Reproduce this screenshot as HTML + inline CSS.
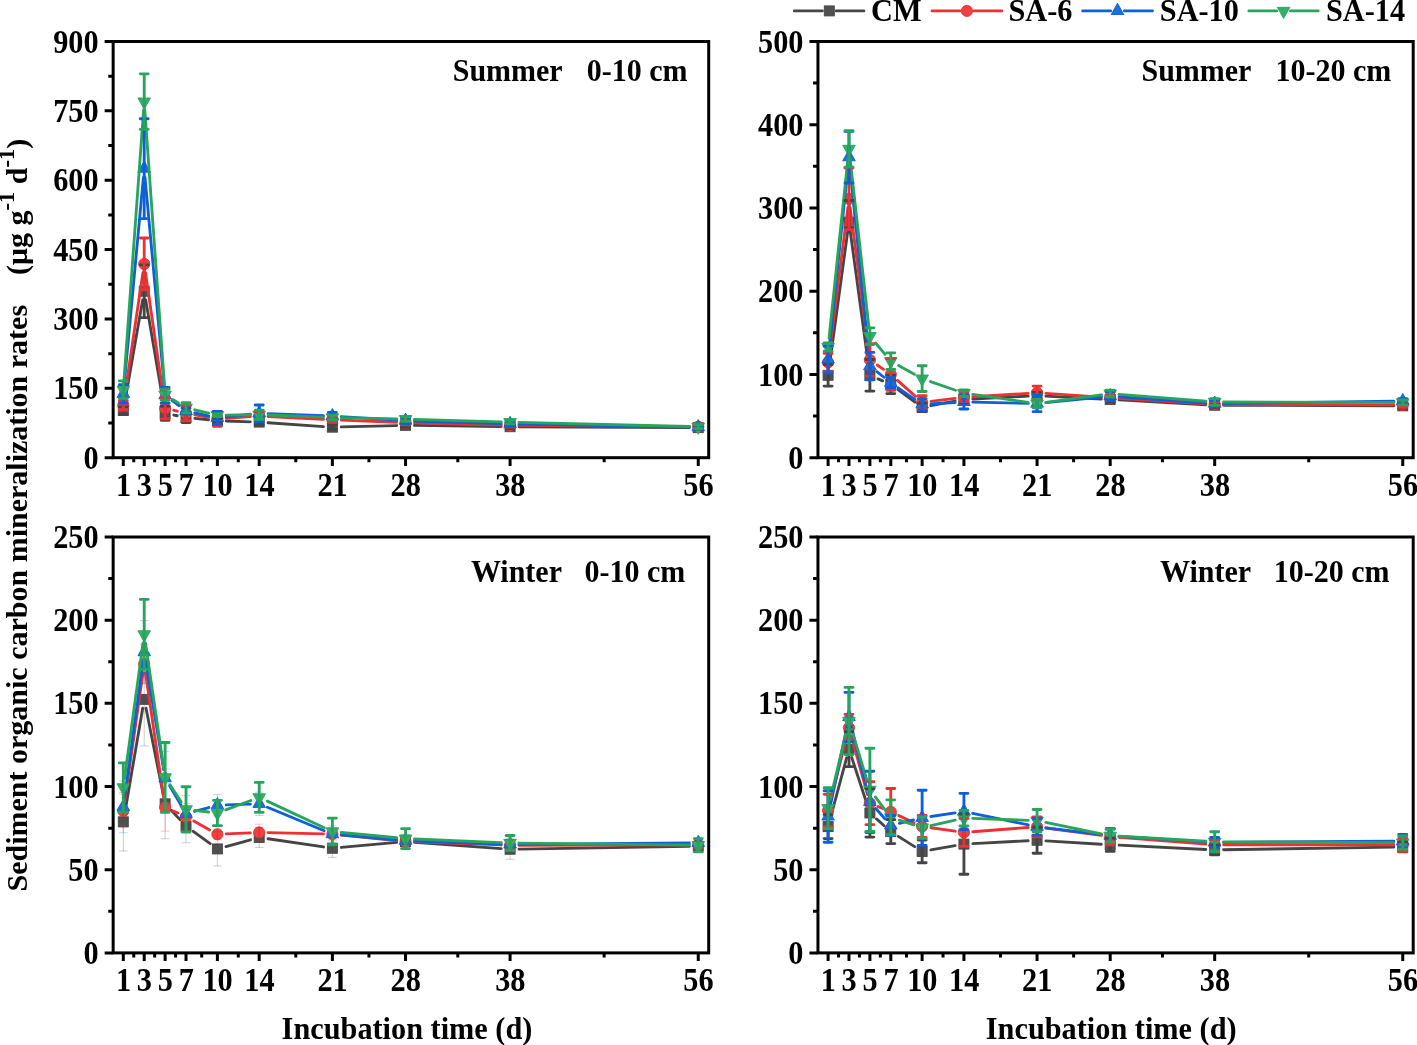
<!DOCTYPE html>
<html lang="en"><head><meta charset="utf-8"><title>Sediment organic carbon mineralization rates</title>
<style>
html,body{margin:0;padding:0;background:#fff}
body{width:1417px;height:1045px;overflow:hidden}
svg{display:block;font-family:"Liberation Serif","Times New Roman",serif;font-weight:bold;font-size:30.3px;fill:#000}
</style></head><body>
<svg width="1417" height="1045" viewBox="0 0 1417 1045">
<rect width="1417" height="1045" fill="#fff"/>
<g><path d="M124.84 401.76L142.67 299.99M145.71 299.99L163.62 404.53M173.85 415.04L177.3 415.73M194.88 418.38L208.53 419.79M226.28 421L250.3 421.8M268.08 422.71L323.5 426.56M341.27 426.95L396.65 425.55M414.45 425.45L501.18 426.6M518.98 426.76L689.35 427.6" fill="none" stroke="#454545" stroke-width="2.85" stroke-linecap="round"/>
<rect x="118.3" y="405.53" width="10" height="10" fill="#505050" stroke="#454545" stroke-width="0.9"/><rect x="139.21" y="286.22" width="10" height="10" fill="#505050" stroke="#454545" stroke-width="0.9"/><rect x="160.12" y="408.31" width="10" height="10" fill="#505050" stroke="#454545" stroke-width="0.9"/><rect x="181.02" y="412.47" width="10" height="10" fill="#505050" stroke="#454545" stroke-width="0.9"/><rect x="212.39" y="415.7" width="10" height="10" fill="#505050" stroke="#454545" stroke-width="0.9"/><rect x="254.2" y="417.09" width="10" height="10" fill="#505050" stroke="#454545" stroke-width="0.9"/><rect x="327.37" y="422.18" width="10" height="10" fill="#505050" stroke="#454545" stroke-width="0.9"/><rect x="400.55" y="420.33" width="10" height="10" fill="#505050" stroke="#454545" stroke-width="0.9"/><rect x="505.08" y="421.72" width="10" height="10" fill="#505050" stroke="#454545" stroke-width="0.9"/><rect x="693.25" y="422.64" width="10" height="10" fill="#505050" stroke="#454545" stroke-width="0.9"/>
<path d="M124.6 396.64L142.91 272.74M145.49 272.74L163.84 399.41M173.77 410.32L177.38 411.2M194.79 414.86L208.62 417.3M226.27 418.27L250.32 416.67M268.09 416.53L323.49 419.33M341.27 420.12L396.65 422.22M414.45 422.79L501.19 425.09M518.98 425.39L689.35 426.65" fill="none" stroke="#ee3034" stroke-width="2.85" stroke-linecap="round"/>
<circle cx="123.3" cy="405.44" r="5.6" fill="#f04040" stroke="#ee3034" stroke-width="0.9"/><circle cx="144.21" cy="263.94" r="5.6" fill="#f04040" stroke="#ee3034" stroke-width="0.9"/><circle cx="165.12" cy="408.22" r="5.6" fill="#f04040" stroke="#ee3034" stroke-width="0.9"/><circle cx="186.02" cy="413.31" r="5.6" fill="#f04040" stroke="#ee3034" stroke-width="0.9"/><circle cx="217.39" cy="418.85" r="5.6" fill="#f04040" stroke="#ee3034" stroke-width="0.9"/><circle cx="259.2" cy="416.08" r="5.6" fill="#f04040" stroke="#ee3034" stroke-width="0.9"/><circle cx="332.37" cy="419.78" r="5.6" fill="#f04040" stroke="#ee3034" stroke-width="0.9"/><circle cx="405.55" cy="422.55" r="5.6" fill="#f04040" stroke="#ee3034" stroke-width="0.9"/><circle cx="510.08" cy="425.33" r="5.6" fill="#f04040" stroke="#ee3034" stroke-width="0.9"/><circle cx="698.25" cy="426.72" r="5.6" fill="#f04040" stroke="#ee3034" stroke-width="0.9"/>
<path d="M124.13 385.02L143.39 177.53M145.03 177.53L164.3 386.41M172.23 400.62L178.91 405.64M194.71 412.92L208.7 416.01M226.23 416.95L250.35 414.28M268.09 413.64L323.48 415.74M341.26 416.64L396.67 420.14M414.44 420.98L501.19 423.67M518.98 424.09L689.35 427.03" fill="none" stroke="#0d60d9" stroke-width="2.85" stroke-linecap="round"/>
<polygon points="123.3,386.28 117,397.48 129.6,397.48" fill="#1b6fde" stroke="#0d60d9" stroke-width="0.9" stroke-linejoin="round"/><polygon points="144.21,161.07 137.91,172.27 150.51,172.27" fill="#1b6fde" stroke="#0d60d9" stroke-width="0.9" stroke-linejoin="round"/><polygon points="165.12,387.67 158.82,398.87 171.42,398.87" fill="#1b6fde" stroke="#0d60d9" stroke-width="0.9" stroke-linejoin="round"/><polygon points="186.02,403.39 179.72,414.59 192.32,414.59" fill="#1b6fde" stroke="#0d60d9" stroke-width="0.9" stroke-linejoin="round"/><polygon points="217.39,410.33 211.09,421.53 223.69,421.53" fill="#1b6fde" stroke="#0d60d9" stroke-width="0.9" stroke-linejoin="round"/><polygon points="259.2,405.71 252.9,416.91 265.5,416.91" fill="#1b6fde" stroke="#0d60d9" stroke-width="0.9" stroke-linejoin="round"/><polygon points="332.37,408.48 326.07,419.68 338.67,419.68" fill="#1b6fde" stroke="#0d60d9" stroke-width="0.9" stroke-linejoin="round"/><polygon points="405.55,413.1 399.25,424.3 411.85,424.3" fill="#1b6fde" stroke="#0d60d9" stroke-width="0.9" stroke-linejoin="round"/><polygon points="510.08,416.34 503.78,427.54 516.38,427.54" fill="#1b6fde" stroke="#0d60d9" stroke-width="0.9" stroke-linejoin="round"/><polygon points="698.25,419.58 691.95,430.78 704.55,430.78" fill="#1b6fde" stroke="#0d60d9" stroke-width="0.9" stroke-linejoin="round"/>
<path d="M123.95 380.84L143.57 110.49M144.84 110.5L164.48 385.93M172.68 399.49L178.46 403.07M194.69 409.8L208.72 413.11M226.28 415.06L250.3 414.79M268.09 415.03L323.48 417.13M341.27 417.66L396.65 418.89M414.44 419.34L501.19 421.84M518.98 422.31L689.35 426.5" fill="none" stroke="#28a55c" stroke-width="2.85" stroke-linecap="round"/>
<polygon points="123.3,397.32 117,386.12 129.6,386.12" fill="#37ad6b" stroke="#28a55c" stroke-width="0.9" stroke-linejoin="round"/><polygon points="144.21,109.22 137.91,98.02 150.51,98.02" fill="#37ad6b" stroke="#28a55c" stroke-width="0.9" stroke-linejoin="round"/><polygon points="165.12,402.41 158.82,391.21 171.42,391.21" fill="#37ad6b" stroke="#28a55c" stroke-width="0.9" stroke-linejoin="round"/><polygon points="186.02,415.36 179.72,404.16 192.32,404.16" fill="#37ad6b" stroke="#28a55c" stroke-width="0.9" stroke-linejoin="round"/><polygon points="217.39,422.76 211.09,411.56 223.69,411.56" fill="#37ad6b" stroke="#28a55c" stroke-width="0.9" stroke-linejoin="round"/><polygon points="259.2,422.29 252.9,411.09 265.5,411.09" fill="#37ad6b" stroke="#28a55c" stroke-width="0.9" stroke-linejoin="round"/><polygon points="332.37,425.07 326.07,413.87 338.67,413.87" fill="#37ad6b" stroke="#28a55c" stroke-width="0.9" stroke-linejoin="round"/><polygon points="405.55,426.69 399.25,415.49 411.85,415.49" fill="#37ad6b" stroke="#28a55c" stroke-width="0.9" stroke-linejoin="round"/><polygon points="510.08,429.69 503.78,418.49 516.38,418.49" fill="#37ad6b" stroke="#28a55c" stroke-width="0.9" stroke-linejoin="round"/><polygon points="698.25,434.32 691.95,423.12 704.55,423.12" fill="#37ad6b" stroke="#28a55c" stroke-width="0.9" stroke-linejoin="round"/>
<path d="M123.3 406.83V414.23M119.3 406.83H127.3M119.3 414.23H127.3M144.21 264.86V317.58M140.21 264.86H148.21M140.21 317.58H148.21M165.12 406.37V420.24M161.12 406.37H169.12M161.12 420.24H169.12M186.02 412.38V422.55M182.02 412.38H190.02M182.02 422.55H190.02M217.39 418.39V423.02M213.39 418.39H221.39M213.39 423.02H221.39M259.2 419.32V424.87M255.2 419.32H263.2M255.2 424.87H263.2M332.37 424.87V429.49M328.37 424.87H336.37M328.37 429.49H336.37M405.55 423.48V427.18M401.55 423.48H409.55M401.55 427.18H409.55M510.08 424.87V428.57M506.08 424.87H514.08M506.08 428.57H514.08M698.25 426.25V429.03M694.25 426.25H702.25M694.25 429.03H702.25" fill="none" stroke="#454545" stroke-width="2.85" stroke-linecap="round"/>
<path d="M123.3 400.82V410.07M119.3 400.82H127.3M119.3 410.07H127.3M144.21 238.04V289.83M140.21 238.04H148.21M140.21 289.83H148.21M165.12 397.58V418.85M161.12 397.58H169.12M161.12 418.85H169.12M186.02 405.91V420.7M182.02 405.91H190.02M182.02 420.7H190.02M217.39 411.46V426.25M213.39 411.46H221.39M213.39 426.25H221.39M259.2 411.92V420.24M255.2 411.92H263.2M255.2 420.24H263.2M332.37 417.47V422.09M328.37 417.47H336.37M328.37 422.09H336.37M405.55 420.24V424.87M401.55 420.24H409.55M401.55 424.87H409.55M510.08 423.48V427.18M506.08 423.48H514.08M506.08 427.18H514.08M698.25 424.87V428.57M694.25 424.87H702.25M694.25 428.57H702.25" fill="none" stroke="#ee3034" stroke-width="2.85" stroke-linecap="round"/>
<path d="M123.3 384.63V403.13M119.3 384.63H127.3M119.3 403.13H127.3M144.21 118.73V218.62M140.21 118.73H148.21M140.21 218.62H148.21M165.12 387.41V403.13M161.12 387.41H169.12M161.12 403.13H169.12M186.02 408.22V413.77M182.02 408.22H190.02M182.02 413.77H190.02M217.39 411.46V424.4M213.39 411.46H221.39M213.39 424.4H221.39M259.2 404.98V421.63M255.2 404.98H263.2M255.2 421.63H263.2M332.37 412.38V419.78M328.37 412.38H336.37M328.37 419.78H336.37M405.55 417.93V423.48M401.55 417.93H409.55M401.55 423.48H409.55M510.08 421.63V426.25M506.08 421.63H514.08M506.08 426.25H514.08M698.25 425.79V428.57M694.25 425.79H702.25M694.25 428.57H702.25" fill="none" stroke="#0d60d9" stroke-width="2.85" stroke-linecap="round"/>
<path d="M123.3 380.93V398.51M119.3 380.93H127.3M119.3 398.51H127.3M144.21 73.87V129.36M140.21 73.87H148.21M140.21 129.36H148.21M165.12 389.26V400.36M161.12 389.26H169.12M161.12 400.36H169.12M186.02 402.67V412.84M182.02 402.67H190.02M182.02 412.84H190.02M217.39 413.77V416.54M213.39 413.77H221.39M213.39 416.54H221.39M259.2 410.07V419.32M255.2 410.07H263.2M255.2 419.32H263.2M332.37 415.16V419.78M328.37 415.16H336.37M328.37 419.78H336.37M405.55 416.77V421.4M401.55 416.77H409.55M401.55 421.4H409.55M510.08 420.24V423.94M506.08 420.24H514.08M506.08 423.94H514.08M698.25 424.87V428.57M694.25 424.87H702.25M694.25 428.57H702.25" fill="none" stroke="#28a55c" stroke-width="2.85" stroke-linecap="round"/></g>
<rect x="113.15" y="41.5" width="595.55" height="416.2" fill="none" stroke="#000" stroke-width="3.0"/>
<path d="M123.3 457.7v8.2M144.21 457.7v8.2M165.12 457.7v8.2M186.02 457.7v8.2M217.39 457.7v8.2M259.2 457.7v8.2M332.37 457.7v8.2M405.55 457.7v8.2M510.08 457.7v8.2M698.25 457.7v8.2M133.76 457.7v4.6M154.66 457.7v4.6M175.57 457.7v4.6M201.7 457.7v4.6M238.29 457.7v4.6M295.79 457.7v4.6M368.96 457.7v4.6M457.82 457.7v4.6M604.16 457.7v4.6M112.85 457.7h-8.2M112.85 423.02h-4.6M112.85 388.33h-8.2M112.85 353.65h-4.6M112.85 318.97h-8.2M112.85 284.28h-4.6M112.85 249.6h-8.2M112.85 214.92h-4.6M112.85 180.23h-8.2M112.85 145.55h-4.6M112.85 110.87h-8.2M112.85 76.18h-4.6M112.85 41.5h-8.2" fill="none" stroke="#000" stroke-width="3.0"/>
<g><text transform="translate(123.5 496.1) scale(1 1.1)" text-anchor="middle">1</text><text transform="translate(144.41 496.1) scale(1 1.1)" text-anchor="middle">3</text><text transform="translate(165.32 496.1) scale(1 1.1)" text-anchor="middle">5</text><text transform="translate(186.22 496.1) scale(1 1.1)" text-anchor="middle">7</text><text transform="translate(217.59 496.1) scale(1 1.1)" text-anchor="middle">10</text><text transform="translate(259.4 496.1) scale(1 1.1)" text-anchor="middle">14</text><text transform="translate(332.57 496.1) scale(1 1.1)" text-anchor="middle">21</text><text transform="translate(405.75 496.1) scale(1 1.1)" text-anchor="middle">28</text><text transform="translate(510.28 496.1) scale(1 1.1)" text-anchor="middle">38</text><text transform="translate(698.45 496.1) scale(1 1.1)" text-anchor="middle">56</text><text transform="translate(98.65 468.8) scale(1 1.1)" text-anchor="end">0</text><text transform="translate(98.65 399.43) scale(1 1.1)" text-anchor="end">150</text><text transform="translate(98.65 330.07) scale(1 1.1)" text-anchor="end">300</text><text transform="translate(98.65 260.7) scale(1 1.1)" text-anchor="end">450</text><text transform="translate(98.65 191.33) scale(1 1.1)" text-anchor="end">600</text><text transform="translate(98.65 121.97) scale(1 1.1)" text-anchor="end">750</text><text transform="translate(98.65 52.6) scale(1 1.1)" text-anchor="end">900</text><text transform="translate(452.7 80.9) scale(1 1.03)" font-size="30" xml:space="preserve" style="white-space:pre">Summer   <tspan dx="2.1">0-10 cm</tspan></text></g>
<g><path d="M829.3 366.47L847.79 230.95M850.2 230.95L868.69 366.47M878.04 378.86L882.64 380.88M897.98 389.7L914.95 402.09M930.88 405.69L955.18 401.09M972.81 398.98L1028.17 396.14M1045.95 396.14L1101.31 398.98M1119.09 399.93L1205.8 404.76M1223.58 405.29L1393.85 405.81" fill="none" stroke="#454545" stroke-width="2.85" stroke-linecap="round"/>
<rect x="823.1" y="370.29" width="10" height="10" fill="#505050" stroke="#454545" stroke-width="0.9"/><rect x="843.99" y="217.13" width="10" height="10" fill="#505050" stroke="#454545" stroke-width="0.9"/><rect x="864.89" y="370.29" width="10" height="10" fill="#505050" stroke="#454545" stroke-width="0.9"/><rect x="885.79" y="379.45" width="10" height="10" fill="#505050" stroke="#454545" stroke-width="0.9"/><rect x="917.13" y="402.34" width="10" height="10" fill="#505050" stroke="#454545" stroke-width="0.9"/><rect x="958.93" y="394.43" width="10" height="10" fill="#505050" stroke="#454545" stroke-width="0.9"/><rect x="1032.06" y="390.69" width="10" height="10" fill="#505050" stroke="#454545" stroke-width="0.9"/><rect x="1105.2" y="394.43" width="10" height="10" fill="#505050" stroke="#454545" stroke-width="0.9"/><rect x="1209.68" y="400.26" width="10" height="10" fill="#505050" stroke="#454545" stroke-width="0.9"/><rect x="1397.75" y="400.84" width="10" height="10" fill="#505050" stroke="#454545" stroke-width="0.9"/>
<path d="M829.23 353.56L847.87 207.65M850.14 207.65L868.75 351.07M877.19 364.98L883.49 369.37M897.44 380.38L915.48 396.43M930.97 401.29L955.09 398.41M972.81 396.79L1028.18 393.33M1045.94 393.38L1101.32 397.16M1119.08 398.33L1205.8 403.86M1223.58 404.45L1393.85 404.82" fill="none" stroke="#ee3034" stroke-width="2.85" stroke-linecap="round"/>
<circle cx="828.1" cy="362.39" r="5.6" fill="#f04040" stroke="#ee3034" stroke-width="0.9"/><circle cx="848.99" cy="198.82" r="5.6" fill="#f04040" stroke="#ee3034" stroke-width="0.9"/><circle cx="869.89" cy="359.89" r="5.6" fill="#f04040" stroke="#ee3034" stroke-width="0.9"/><circle cx="890.79" cy="374.46" r="5.6" fill="#f04040" stroke="#ee3034" stroke-width="0.9"/><circle cx="922.13" cy="402.35" r="5.6" fill="#f04040" stroke="#ee3034" stroke-width="0.9"/><circle cx="963.93" cy="397.35" r="5.6" fill="#f04040" stroke="#ee3034" stroke-width="0.9"/><circle cx="1037.06" cy="392.77" r="5.6" fill="#f04040" stroke="#ee3034" stroke-width="0.9"/><circle cx="1110.2" cy="397.77" r="5.6" fill="#f04040" stroke="#ee3034" stroke-width="0.9"/><circle cx="1214.68" cy="404.43" r="5.6" fill="#f04040" stroke="#ee3034" stroke-width="0.9"/><circle cx="1402.75" cy="404.84" r="5.6" fill="#f04040" stroke="#ee3034" stroke-width="0.9"/>
<path d="M829.01 350.62L848.08 166.06M849.88 166.06L869.01 357.28M876.85 371.68L883.83 377.24M898.11 387.84L914.81 399.37M931.02 403.9L955.04 402.46M972.82 402.13L1028.17 403.39M1045.92 402.69L1101.35 397.01M1119.08 396.74L1205.81 402.96M1223.58 403.48L1393.85 401.21" fill="none" stroke="#0d60d9" stroke-width="2.85" stroke-linecap="round"/>
<polygon points="828.1,351.88 821.8,363.08 834.4,363.08" fill="#1b6fde" stroke="#0d60d9" stroke-width="0.9" stroke-linejoin="round"/><polygon points="848.99,149.6 842.69,160.8 855.29,160.8" fill="#1b6fde" stroke="#0d60d9" stroke-width="0.9" stroke-linejoin="round"/><polygon points="869.89,358.54 863.59,369.74 876.19,369.74" fill="#1b6fde" stroke="#0d60d9" stroke-width="0.9" stroke-linejoin="round"/><polygon points="890.79,375.18 884.49,386.38 897.09,386.38" fill="#1b6fde" stroke="#0d60d9" stroke-width="0.9" stroke-linejoin="round"/><polygon points="922.13,396.83 915.83,408.03 928.43,408.03" fill="#1b6fde" stroke="#0d60d9" stroke-width="0.9" stroke-linejoin="round"/><polygon points="963.93,394.33 957.63,405.53 970.23,405.53" fill="#1b6fde" stroke="#0d60d9" stroke-width="0.9" stroke-linejoin="round"/><polygon points="1037.06,395.99 1030.76,407.19 1043.36,407.19" fill="#1b6fde" stroke="#0d60d9" stroke-width="0.9" stroke-linejoin="round"/><polygon points="1110.2,388.5 1103.9,399.7 1116.5,399.7" fill="#1b6fde" stroke="#0d60d9" stroke-width="0.9" stroke-linejoin="round"/><polygon points="1214.68,395.99 1208.38,407.19 1220.98,407.19" fill="#1b6fde" stroke="#0d60d9" stroke-width="0.9" stroke-linejoin="round"/><polygon points="1402.75,393.5 1396.45,404.7 1409.05,404.7" fill="#1b6fde" stroke="#0d60d9" stroke-width="0.9" stroke-linejoin="round"/>
<path d="M829.03 338.14L848.06 157.73M849.98 157.72L868.9 327.32M875.6 343L885.08 354.32M898.56 365.48L914.36 374.29M930.54 381.55L955.52 390.26M972.74 394.44L1028.25 402.34M1045.88 402.39L1101.38 394.81M1119.07 394.31L1205.81 401.22M1223.58 401.95L1393.85 402.41" fill="none" stroke="#28a55c" stroke-width="2.85" stroke-linecap="round"/>
<polygon points="828.1,354.59 821.8,343.39 834.4,343.39" fill="#37ad6b" stroke="#28a55c" stroke-width="0.9" stroke-linejoin="round"/><polygon points="848.99,156.48 842.69,145.28 855.29,145.28" fill="#37ad6b" stroke="#28a55c" stroke-width="0.9" stroke-linejoin="round"/><polygon points="869.89,343.77 863.59,332.57 876.19,332.57" fill="#37ad6b" stroke="#28a55c" stroke-width="0.9" stroke-linejoin="round"/><polygon points="890.79,368.74 884.49,357.54 897.09,357.54" fill="#37ad6b" stroke="#28a55c" stroke-width="0.9" stroke-linejoin="round"/><polygon points="922.13,386.22 915.83,375.02 928.43,375.02" fill="#37ad6b" stroke="#28a55c" stroke-width="0.9" stroke-linejoin="round"/><polygon points="963.93,400.79 957.63,389.59 970.23,389.59" fill="#37ad6b" stroke="#28a55c" stroke-width="0.9" stroke-linejoin="round"/><polygon points="1037.06,411.19 1030.76,399.99 1043.36,399.99" fill="#37ad6b" stroke="#28a55c" stroke-width="0.9" stroke-linejoin="round"/><polygon points="1110.2,401.21 1103.9,390.01 1116.5,390.01" fill="#37ad6b" stroke="#28a55c" stroke-width="0.9" stroke-linejoin="round"/><polygon points="1214.68,409.53 1208.38,398.33 1220.98,398.33" fill="#37ad6b" stroke="#28a55c" stroke-width="0.9" stroke-linejoin="round"/><polygon points="1402.75,410.03 1396.45,398.83 1409.05,398.83" fill="#37ad6b" stroke="#28a55c" stroke-width="0.9" stroke-linejoin="round"/>
<path d="M828.1 364.47V386.11M824.1 364.47H832.1M824.1 386.11H832.1M848.99 200.49V227.96M844.99 200.49H852.99M844.99 227.96H852.99M869.89 359.48V391.11M865.89 359.48H873.89M865.89 391.11H873.89M890.79 375.29V393.61M886.79 375.29H894.79M886.79 393.61H894.79M922.13 403.18V411.5M918.13 403.18H926.13M918.13 411.5H926.13M963.93 396.1V402.76M959.93 396.1H967.93M959.93 402.76H967.93M1037.06 392.36V399.02M1033.06 392.36H1041.06M1033.06 399.02H1041.06M1110.2 396.93V401.93M1106.2 396.93H1114.2M1106.2 401.93H1114.2M1214.68 402.76V407.76M1210.68 402.76H1218.68M1210.68 407.76H1218.68M1402.75 403.34V408.34M1398.75 403.34H1406.75M1398.75 408.34H1406.75" fill="none" stroke="#454545" stroke-width="2.85" stroke-linecap="round"/>
<path d="M828.1 353.23V371.55M824.1 353.23H832.1M824.1 371.55H832.1M848.99 168.02V229.62M844.99 168.02H852.99M844.99 229.62H852.99M869.89 343.66V376.12M865.89 343.66H873.89M865.89 376.12H873.89M890.79 358.64V390.28M886.79 358.64H894.79M886.79 390.28H894.79M922.13 395.69V409M918.13 395.69H926.13M918.13 409H926.13M963.93 393.19V401.51M959.93 393.19H967.93M959.93 401.51H967.93M1037.06 386.11V399.43M1033.06 386.11H1041.06M1033.06 399.43H1041.06M1110.2 395.27V400.26M1106.2 395.27H1114.2M1106.2 400.26H1114.2M1214.68 401.93V406.92M1210.68 401.93H1218.68M1210.68 406.92H1218.68M1402.75 402.35V407.34M1398.75 402.35H1406.75M1398.75 407.34H1406.75" fill="none" stroke="#ee3034" stroke-width="2.85" stroke-linecap="round"/>
<path d="M828.1 346.16V372.8M824.1 346.16H832.1M824.1 372.8H832.1M848.99 131.4V183.01M844.99 131.4H852.99M844.99 183.01H852.99M869.89 352.4V379.87M865.89 352.4H873.89M865.89 379.87H873.89M890.79 377.79V387.78M886.79 377.79H894.79M886.79 387.78H894.79M922.13 398.6V410.25M918.13 398.6H926.13M918.13 410.25H926.13M963.93 394.85V409M959.93 394.85H967.93M959.93 409H967.93M1037.06 395.52V411.67M1033.06 395.52H1041.06M1033.06 411.67H1041.06M1110.2 391.94V400.26M1106.2 391.94H1114.2M1106.2 400.26H1114.2M1214.68 400.26V406.92M1210.68 400.26H1218.68M1210.68 406.92H1218.68M1402.75 398.6V403.59M1398.75 398.6H1406.75M1398.75 403.59H1406.75" fill="none" stroke="#0d60d9" stroke-width="2.85" stroke-linecap="round"/>
<path d="M828.1 342.83V351.15M824.1 342.83H832.1M824.1 351.15H832.1M848.99 130.57V167.19M844.99 130.57H852.99M844.99 167.19H852.99M869.89 327.85V344.49M865.89 327.85H873.89M865.89 344.49H873.89M890.79 352.82V369.47M886.79 352.82H894.79M886.79 369.47H894.79M922.13 365.72V391.52M918.13 365.72H926.13M918.13 391.52H926.13M963.93 389.86V396.52M959.93 389.86H967.93M959.93 396.52H967.93M1037.06 399.43V407.76M1033.06 399.43H1041.06M1033.06 407.76H1041.06M1110.2 390.28V396.93M1106.2 390.28H1114.2M1106.2 396.93H1114.2M1214.68 398.6V405.26M1210.68 398.6H1218.68M1210.68 405.26H1218.68M1402.75 399.93V404.93M1398.75 399.93H1406.75M1398.75 404.93H1406.75" fill="none" stroke="#28a55c" stroke-width="2.85" stroke-linecap="round"/></g>
<rect x="817.95" y="41.5" width="595.25" height="416.2" fill="none" stroke="#000" stroke-width="3.0"/>
<path d="M828.1 457.7v8.2M848.99 457.7v8.2M869.89 457.7v8.2M890.79 457.7v8.2M922.13 457.7v8.2M963.93 457.7v8.2M1037.06 457.7v8.2M1110.2 457.7v8.2M1214.68 457.7v8.2M1402.75 457.7v8.2M838.55 457.7v4.6M859.44 457.7v4.6M880.34 457.7v4.6M906.46 457.7v4.6M943.03 457.7v4.6M1000.49 457.7v4.6M1073.63 457.7v4.6M1162.44 457.7v4.6M1308.72 457.7v4.6M817.65 457.7h-8.2M817.65 416.08h-4.6M817.65 374.46h-8.2M817.65 332.84h-4.6M817.65 291.22h-8.2M817.65 249.6h-4.6M817.65 207.98h-8.2M817.65 166.36h-4.6M817.65 124.74h-8.2M817.65 83.12h-4.6M817.65 41.5h-8.2" fill="none" stroke="#000" stroke-width="3.0"/>
<g><text transform="translate(828.3 496.1) scale(1 1.1)" text-anchor="middle">1</text><text transform="translate(849.19 496.1) scale(1 1.1)" text-anchor="middle">3</text><text transform="translate(870.09 496.1) scale(1 1.1)" text-anchor="middle">5</text><text transform="translate(890.99 496.1) scale(1 1.1)" text-anchor="middle">7</text><text transform="translate(922.33 496.1) scale(1 1.1)" text-anchor="middle">10</text><text transform="translate(964.13 496.1) scale(1 1.1)" text-anchor="middle">14</text><text transform="translate(1037.26 496.1) scale(1 1.1)" text-anchor="middle">21</text><text transform="translate(1110.4 496.1) scale(1 1.1)" text-anchor="middle">28</text><text transform="translate(1214.88 496.1) scale(1 1.1)" text-anchor="middle">38</text><text transform="translate(1402.95 496.1) scale(1 1.1)" text-anchor="middle">56</text><text transform="translate(803.45 468.8) scale(1 1.1)" text-anchor="end">0</text><text transform="translate(803.45 385.56) scale(1 1.1)" text-anchor="end">100</text><text transform="translate(803.45 302.32) scale(1 1.1)" text-anchor="end">200</text><text transform="translate(803.45 219.08) scale(1 1.1)" text-anchor="end">300</text><text transform="translate(803.45 135.84) scale(1 1.1)" text-anchor="end">400</text><text transform="translate(803.45 52.6) scale(1 1.1)" text-anchor="end">500</text><text transform="translate(1141.5 80.9) scale(1 1.03)" font-size="30" xml:space="preserve" style="white-space:pre">Summer   <tspan dx="2.1">10-20 cm</tspan></text></g>
<g><path d="M124.8 813.04L142.71 708.14M145.96 708.09L163.37 795.11M171.21 810.33L179.94 819.64M193.22 831.37L210.19 843.69M225.97 846.57L250.62 839.8M268 838.75L323.57 846.96M341.24 847.45L396.68 842.41M414.42 842.25L501.21 848.61M518.98 849.12L689.35 846.4" fill="none" stroke="#454545" stroke-width="2.85" stroke-linecap="round"/>
<rect x="118.3" y="816.81" width="10" height="10" fill="#505050" stroke="#454545" stroke-width="0.9"/><rect x="139.21" y="694.37" width="10" height="10" fill="#505050" stroke="#454545" stroke-width="0.9"/><rect x="160.12" y="798.84" width="10" height="10" fill="#505050" stroke="#454545" stroke-width="0.9"/><rect x="181.02" y="821.13" width="10" height="10" fill="#505050" stroke="#454545" stroke-width="0.9"/><rect x="212.39" y="843.92" width="10" height="10" fill="#505050" stroke="#454545" stroke-width="0.9"/><rect x="254.2" y="832.45" width="10" height="10" fill="#505050" stroke="#454545" stroke-width="0.9"/><rect x="327.37" y="843.26" width="10" height="10" fill="#505050" stroke="#454545" stroke-width="0.9"/><rect x="400.55" y="836.61" width="10" height="10" fill="#505050" stroke="#454545" stroke-width="0.9"/><rect x="505.08" y="844.26" width="10" height="10" fill="#505050" stroke="#454545" stroke-width="0.9"/><rect x="693.25" y="841.26" width="10" height="10" fill="#505050" stroke="#454545" stroke-width="0.9"/>
<path d="M124.56 802.18L142.96 672.74M145.49 672.74L163.83 798.53M173.25 810.96L177.9 813.03M193.78 821.01L209.63 829.92M226.28 833.9L250.31 832.84M268.1 832.66L323.48 833.92M341.23 835.02L396.69 840.7M414.44 841.92L501.19 844.95M518.98 845.24L689.35 844.79" fill="none" stroke="#ee3034" stroke-width="2.85" stroke-linecap="round"/>
<circle cx="123.3" cy="810.99" r="5.6" fill="#f04040" stroke="#ee3034" stroke-width="0.9"/><circle cx="144.21" cy="663.93" r="5.6" fill="#f04040" stroke="#ee3034" stroke-width="0.9"/><circle cx="165.12" cy="807.34" r="5.6" fill="#f04040" stroke="#ee3034" stroke-width="0.9"/><circle cx="186.02" cy="816.65" r="5.6" fill="#f04040" stroke="#ee3034" stroke-width="0.9"/><circle cx="217.39" cy="834.29" r="5.6" fill="#f04040" stroke="#ee3034" stroke-width="0.9"/><circle cx="259.2" cy="832.46" r="5.6" fill="#f04040" stroke="#ee3034" stroke-width="0.9"/><circle cx="332.37" cy="834.12" r="5.6" fill="#f04040" stroke="#ee3034" stroke-width="0.9"/><circle cx="405.55" cy="841.61" r="5.6" fill="#f04040" stroke="#ee3034" stroke-width="0.9"/><circle cx="510.08" cy="845.27" r="5.6" fill="#f04040" stroke="#ee3034" stroke-width="0.9"/><circle cx="698.25" cy="844.77" r="5.6" fill="#f04040" stroke="#ee3034" stroke-width="0.9"/>
<path d="M124.49 798.18L143.02 660.94M145.67 660.9L163.66 769.44M169.62 785.9L181.52 806.15M194.6 811.46L208.81 807.54M226.28 804.89L250.3 804.12M267.42 807.24L324.15 830.72M341.24 834.92L396.68 839.97M414.44 841.08L501.19 844.12M518.98 844.36L689.35 843.01" fill="none" stroke="#0d60d9" stroke-width="2.85" stroke-linecap="round"/>
<polygon points="123.3,799.4 117,810.6 129.6,810.6" fill="#1b6fde" stroke="#0d60d9" stroke-width="0.9" stroke-linejoin="round"/><polygon points="144.21,644.52 137.91,655.72 150.51,655.72" fill="#1b6fde" stroke="#0d60d9" stroke-width="0.9" stroke-linejoin="round"/><polygon points="165.12,770.62 158.82,781.82 171.42,781.82" fill="#1b6fde" stroke="#0d60d9" stroke-width="0.9" stroke-linejoin="round"/><polygon points="186.02,806.22 179.72,817.42 192.32,817.42" fill="#1b6fde" stroke="#0d60d9" stroke-width="0.9" stroke-linejoin="round"/><polygon points="217.39,797.57 211.09,808.77 223.69,808.77" fill="#1b6fde" stroke="#0d60d9" stroke-width="0.9" stroke-linejoin="round"/><polygon points="259.2,796.24 252.9,807.44 265.5,807.44" fill="#1b6fde" stroke="#0d60d9" stroke-width="0.9" stroke-linejoin="round"/><polygon points="332.37,826.52 326.07,837.72 338.67,837.72" fill="#1b6fde" stroke="#0d60d9" stroke-width="0.9" stroke-linejoin="round"/><polygon points="405.55,833.17 399.25,844.37 411.85,844.37" fill="#1b6fde" stroke="#0d60d9" stroke-width="0.9" stroke-linejoin="round"/><polygon points="510.08,836.83 503.78,848.03 516.38,848.03" fill="#1b6fde" stroke="#0d60d9" stroke-width="0.9" stroke-linejoin="round"/><polygon points="698.25,835.34 691.95,846.54 704.55,846.54" fill="#1b6fde" stroke="#0d60d9" stroke-width="0.9" stroke-linejoin="round"/>
<path d="M124.51 778.55L143.01 643.14M145.5 643.13L163.83 768.58M169.99 784.84L181.15 801.88M194.86 810.36L208.55 811.96M225.72 809.87L250.86 800.47M267.27 801.11L324.31 827.7M341.23 832.32L396.69 837.74M414.44 838.98L501.19 842.57M518.98 843.05L689.35 845.15" fill="none" stroke="#28a55c" stroke-width="2.85" stroke-linecap="round"/>
<polygon points="123.3,794.97 117,783.77 129.6,783.77" fill="#37ad6b" stroke="#28a55c" stroke-width="0.9" stroke-linejoin="round"/><polygon points="144.21,641.92 137.91,630.72 150.51,630.72" fill="#37ad6b" stroke="#28a55c" stroke-width="0.9" stroke-linejoin="round"/><polygon points="165.12,784.99 158.82,773.79 171.42,773.79" fill="#37ad6b" stroke="#28a55c" stroke-width="0.9" stroke-linejoin="round"/><polygon points="186.02,816.93 179.72,805.73 192.32,805.73" fill="#37ad6b" stroke="#28a55c" stroke-width="0.9" stroke-linejoin="round"/><polygon points="217.39,820.59 211.09,809.39 223.69,809.39" fill="#37ad6b" stroke="#28a55c" stroke-width="0.9" stroke-linejoin="round"/><polygon points="259.2,804.95 252.9,793.75 265.5,793.75" fill="#37ad6b" stroke="#28a55c" stroke-width="0.9" stroke-linejoin="round"/><polygon points="332.37,839.06 326.07,827.86 338.67,827.86" fill="#37ad6b" stroke="#28a55c" stroke-width="0.9" stroke-linejoin="round"/><polygon points="405.55,846.21 399.25,835.01 411.85,835.01" fill="#37ad6b" stroke="#28a55c" stroke-width="0.9" stroke-linejoin="round"/><polygon points="510.08,850.54 503.78,839.34 516.38,839.34" fill="#37ad6b" stroke="#28a55c" stroke-width="0.9" stroke-linejoin="round"/><polygon points="698.25,852.87 691.95,841.67 704.55,841.67" fill="#37ad6b" stroke="#28a55c" stroke-width="0.9" stroke-linejoin="round"/>
<path d="M123.3 792.7V850.92M119 792.7H127.6M119 850.92H127.6M144.21 652.79V745.95M139.91 652.79H148.51M139.91 745.95H148.51M165.12 768.91V838.78M160.82 768.91H169.42M160.82 838.78H169.42M186.02 809.5V842.77M181.72 809.5H190.32M181.72 842.77H190.32M217.39 831.79V866.06M213.09 831.79H221.69M213.09 866.06H221.69M259.2 827.46V847.43M254.9 827.46H263.5M254.9 847.43H263.5M332.37 839.11V857.41M328.07 839.11H336.67M328.07 857.41H336.67M405.55 834.95V848.26M401.25 834.95H409.85M401.25 848.26H409.85M510.08 839.28V859.24M505.78 839.28H514.38M505.78 859.24H514.38M698.25 841.27V851.25M693.95 841.27H702.55M693.95 851.25H702.55" fill="none" stroke="#454545" stroke-width="0.6" stroke-opacity="0.45"/>
<path d="M123.3 794.36V827.63M119 794.36H127.6M119 827.63H127.6M144.21 644.63V683.23M139.91 644.63H148.51M139.91 683.23H148.51M165.12 783.55V831.12M160.82 783.55H169.42M160.82 831.12H169.42M186.02 803.34V829.96M181.72 803.34H190.32M181.72 829.96H190.32M217.39 829.29V839.28M213.09 829.29H221.69M213.09 839.28H221.69M259.2 824.14V840.77M254.9 824.14H263.5M254.9 840.77H263.5M332.37 827.46V840.77M328.07 827.46H336.67M328.07 840.77H336.67M405.55 836.61V846.6M401.25 836.61H409.85M401.25 846.6H409.85M510.08 840.27V850.26M505.78 840.27H514.38M505.78 850.26H514.38M698.25 839.78V849.76M693.95 839.78H702.55M693.95 849.76H702.55" fill="none" stroke="#ee3034" stroke-width="0.6" stroke-opacity="0.45"/>
<path d="M123.3 781.22V832.79M119 781.22H127.6M119 832.79H127.6M144.21 620.51V683.73M139.91 620.51H148.51M139.91 683.73H148.51M165.12 751.6V804.84M160.82 751.6H169.42M160.82 804.84H169.42M186.02 795.52V832.12M181.72 795.52H190.32M181.72 832.12H190.32M217.39 794.36V815.99M213.09 794.36H221.69M213.09 815.99H221.69M259.2 792.2V815.49M254.9 792.2H263.5M254.9 815.49H263.5M332.37 825.8V842.44M328.07 825.8H336.67M328.07 842.44H336.67M405.55 834.12V847.43M401.25 834.12H409.85M401.25 847.43H409.85M510.08 837.78V851.09M505.78 837.78H514.38M505.78 851.09H514.38M698.25 837.95V847.93M693.95 837.95H702.55M693.95 847.93H702.55" fill="none" stroke="#0d60d9" stroke-width="0.6" stroke-opacity="0.45"/>
<path d="M123.3 762.92V811.83M119.3 762.92H127.3M119.3 811.83H127.3M144.21 599.38V669.26M140.21 599.38H148.21M140.21 669.26H148.21M165.12 742.45V812.33M161.12 742.45H169.12M161.12 812.33H169.12M186.02 786.71V831.96M182.02 786.71H190.02M182.02 831.96H190.02M217.39 800.35V825.63M213.39 800.35H221.39M213.39 825.63H221.39M259.2 782.38V812.33M255.2 782.38H263.2M255.2 812.33H263.2M332.37 818.15V844.77M328.37 818.15H336.37M328.37 844.77H336.37M405.55 828.63V848.59M401.55 828.63H409.55M401.55 848.59H409.55M510.08 835.45V850.42M506.08 835.45H514.08M506.08 850.42H514.08M698.25 838.61V851.92M694.25 838.61H702.25M694.25 851.92H702.25" fill="none" stroke="#28a55c" stroke-width="2.85" stroke-linecap="round"/></g>
<rect x="113.15" y="537" width="595.55" height="415.9" fill="none" stroke="#000" stroke-width="3.0"/>
<path d="M123.3 952.9v8.2M144.21 952.9v8.2M165.12 952.9v8.2M186.02 952.9v8.2M217.39 952.9v8.2M259.2 952.9v8.2M332.37 952.9v8.2M405.55 952.9v8.2M510.08 952.9v8.2M698.25 952.9v8.2M133.76 952.9v4.6M154.66 952.9v4.6M175.57 952.9v4.6M201.7 952.9v4.6M238.29 952.9v4.6M295.79 952.9v4.6M368.96 952.9v4.6M457.82 952.9v4.6M604.16 952.9v4.6M112.85 952.9h-8.2M112.85 911.31h-4.6M112.85 869.72h-8.2M112.85 828.13h-4.6M112.85 786.54h-8.2M112.85 744.95h-4.6M112.85 703.36h-8.2M112.85 661.77h-4.6M112.85 620.18h-8.2M112.85 578.59h-4.6M112.85 537h-8.2" fill="none" stroke="#000" stroke-width="3.0"/>
<g><text transform="translate(123.5 991.3) scale(1 1.1)" text-anchor="middle">1</text><text transform="translate(144.41 991.3) scale(1 1.1)" text-anchor="middle">3</text><text transform="translate(165.32 991.3) scale(1 1.1)" text-anchor="middle">5</text><text transform="translate(186.22 991.3) scale(1 1.1)" text-anchor="middle">7</text><text transform="translate(217.59 991.3) scale(1 1.1)" text-anchor="middle">10</text><text transform="translate(259.4 991.3) scale(1 1.1)" text-anchor="middle">14</text><text transform="translate(332.57 991.3) scale(1 1.1)" text-anchor="middle">21</text><text transform="translate(405.75 991.3) scale(1 1.1)" text-anchor="middle">28</text><text transform="translate(510.28 991.3) scale(1 1.1)" text-anchor="middle">38</text><text transform="translate(698.45 991.3) scale(1 1.1)" text-anchor="middle">56</text><text transform="translate(98.65 964) scale(1 1.1)" text-anchor="end">0</text><text transform="translate(98.65 880.82) scale(1 1.1)" text-anchor="end">50</text><text transform="translate(98.65 797.64) scale(1 1.1)" text-anchor="end">100</text><text transform="translate(98.65 714.46) scale(1 1.1)" text-anchor="end">150</text><text transform="translate(98.65 631.28) scale(1 1.1)" text-anchor="end">200</text><text transform="translate(98.65 548.1) scale(1 1.1)" text-anchor="end">250</text><text transform="translate(470.9 582.2) scale(1 1.03)" font-size="30" xml:space="preserve" style="white-space:pre">Winter   <tspan dx="0.7">0-10 cm</tspan></text></g>
<g><path d="M830.41 818.04L846.68 757.7M851.76 757.57L867.12 804.53M876.53 818.91L884.14 825.7M898.31 836.38L914.61 846.67M930.9 849.88L955.16 845.64M972.81 843.64L1028.18 840.74M1045.95 840.82L1101.32 844.22M1119.09 845.2L1205.79 849.48M1223.58 849.78L1393.85 847.07" fill="none" stroke="#454545" stroke-width="2.85" stroke-linecap="round"/>
<rect x="823.1" y="821.63" width="10" height="10" fill="#505050" stroke="#454545" stroke-width="0.9"/><rect x="843.99" y="744.11" width="10" height="10" fill="#505050" stroke="#454545" stroke-width="0.9"/><rect x="864.89" y="807.99" width="10" height="10" fill="#505050" stroke="#454545" stroke-width="0.9"/><rect x="885.79" y="826.62" width="10" height="10" fill="#505050" stroke="#454545" stroke-width="0.9"/><rect x="917.13" y="846.42" width="10" height="10" fill="#505050" stroke="#454545" stroke-width="0.9"/><rect x="958.93" y="839.1" width="10" height="10" fill="#505050" stroke="#454545" stroke-width="0.9"/><rect x="1032.06" y="835.27" width="10" height="10" fill="#505050" stroke="#454545" stroke-width="0.9"/><rect x="1105.2" y="839.77" width="10" height="10" fill="#505050" stroke="#454545" stroke-width="0.9"/><rect x="1209.68" y="844.92" width="10" height="10" fill="#505050" stroke="#454545" stroke-width="0.9"/><rect x="1397.75" y="841.93" width="10" height="10" fill="#505050" stroke="#454545" stroke-width="0.9"/>
<path d="M830.27 801.87L846.82 736.28M851.37 736.23L867.52 794.6M878.11 806.58L882.56 808.42M898.85 815.59L914.07 822.7M930.94 827.73L955.12 831.19M972.8 831.77L1028.19 827.49M1045.88 827.98L1101.38 835.43M1119.07 837.31L1205.81 844.07M1223.58 844.77L1393.85 844.77" fill="none" stroke="#ee3034" stroke-width="2.85" stroke-linecap="round"/>
<circle cx="828.1" cy="810.5" r="5.6" fill="#f04040" stroke="#ee3034" stroke-width="0.9"/><circle cx="848.99" cy="727.65" r="5.6" fill="#f04040" stroke="#ee3034" stroke-width="0.9"/><circle cx="869.89" cy="803.18" r="5.6" fill="#f04040" stroke="#ee3034" stroke-width="0.9"/><circle cx="890.79" cy="811.83" r="5.6" fill="#f04040" stroke="#ee3034" stroke-width="0.9"/><circle cx="922.13" cy="826.47" r="5.6" fill="#f04040" stroke="#ee3034" stroke-width="0.9"/><circle cx="963.93" cy="832.46" r="5.6" fill="#f04040" stroke="#ee3034" stroke-width="0.9"/><circle cx="1037.06" cy="826.8" r="5.6" fill="#f04040" stroke="#ee3034" stroke-width="0.9"/><circle cx="1110.2" cy="836.61" r="5.6" fill="#f04040" stroke="#ee3034" stroke-width="0.9"/><circle cx="1214.68" cy="844.77" r="5.6" fill="#f04040" stroke="#ee3034" stroke-width="0.9"/><circle cx="1402.75" cy="844.77" r="5.6" fill="#f04040" stroke="#ee3034" stroke-width="0.9"/>
<path d="M829.93 807.77L847.17 725.71M851.12 725.64L867.76 793.2M875.79 808.51L884.89 818.8M899.43 823.36L913.49 819.93M930.93 816.48L955.13 812.83M972.64 813.32L1028.35 824.98M1045.9 827.88L1101.37 834.7M1119.08 836.35L1205.8 841.87M1223.58 842.37L1393.85 841.17" fill="none" stroke="#0d60d9" stroke-width="2.85" stroke-linecap="round"/>
<polygon points="828.1,808.88 821.8,820.08 834.4,820.08" fill="#1b6fde" stroke="#0d60d9" stroke-width="0.9" stroke-linejoin="round"/><polygon points="848.99,709.4 842.69,720.6 855.29,720.6" fill="#1b6fde" stroke="#0d60d9" stroke-width="0.9" stroke-linejoin="round"/><polygon points="869.89,794.25 863.59,805.45 876.19,805.45" fill="#1b6fde" stroke="#0d60d9" stroke-width="0.9" stroke-linejoin="round"/><polygon points="890.79,817.87 884.49,829.07 897.09,829.07" fill="#1b6fde" stroke="#0d60d9" stroke-width="0.9" stroke-linejoin="round"/><polygon points="922.13,810.22 915.83,821.42 928.43,821.42" fill="#1b6fde" stroke="#0d60d9" stroke-width="0.9" stroke-linejoin="round"/><polygon points="963.93,803.89 957.63,815.09 970.23,815.09" fill="#1b6fde" stroke="#0d60d9" stroke-width="0.9" stroke-linejoin="round"/><polygon points="1037.06,819.2 1030.76,830.4 1043.36,830.4" fill="#1b6fde" stroke="#0d60d9" stroke-width="0.9" stroke-linejoin="round"/><polygon points="1110.2,828.18 1103.9,839.38 1116.5,839.38" fill="#1b6fde" stroke="#0d60d9" stroke-width="0.9" stroke-linejoin="round"/><polygon points="1214.68,834.84 1208.38,846.04 1220.98,846.04" fill="#1b6fde" stroke="#0d60d9" stroke-width="0.9" stroke-linejoin="round"/><polygon points="1402.75,833.51 1396.45,844.71 1409.05,844.71" fill="#1b6fde" stroke="#0d60d9" stroke-width="0.9" stroke-linejoin="round"/>
<path d="M830.17 799.51L846.92 729.65M851.58 729.51L867.31 781.35M875.28 796.95L885.4 810.24M899.24 820.1L913.68 824.85M930.81 825.66L955.25 820.12M972.82 818.45L1028.17 820.34M1045.78 822.45L1101.49 833.98M1119.09 836.29L1205.8 841.26M1223.58 841.81L1393.85 842.56" fill="none" stroke="#28a55c" stroke-width="2.85" stroke-linecap="round"/>
<polygon points="828.1,815.77 821.8,804.57 834.4,804.57" fill="#37ad6b" stroke="#28a55c" stroke-width="0.9" stroke-linejoin="round"/><polygon points="848.99,728.59 842.69,717.39 855.29,717.39" fill="#37ad6b" stroke="#28a55c" stroke-width="0.9" stroke-linejoin="round"/><polygon points="869.89,797.47 863.59,786.27 876.19,786.27" fill="#37ad6b" stroke="#28a55c" stroke-width="0.9" stroke-linejoin="round"/><polygon points="890.79,824.92 884.49,813.72 897.09,813.72" fill="#37ad6b" stroke="#28a55c" stroke-width="0.9" stroke-linejoin="round"/><polygon points="922.13,835.23 915.83,824.03 928.43,824.03" fill="#37ad6b" stroke="#28a55c" stroke-width="0.9" stroke-linejoin="round"/><polygon points="963.93,825.75 957.63,814.55 970.23,814.55" fill="#37ad6b" stroke="#28a55c" stroke-width="0.9" stroke-linejoin="round"/><polygon points="1037.06,828.24 1030.76,817.04 1043.36,817.04" fill="#37ad6b" stroke="#28a55c" stroke-width="0.9" stroke-linejoin="round"/><polygon points="1110.2,843.38 1103.9,832.18 1116.5,832.18" fill="#37ad6b" stroke="#28a55c" stroke-width="0.9" stroke-linejoin="round"/><polygon points="1214.68,849.37 1208.38,838.17 1220.98,838.17" fill="#37ad6b" stroke="#28a55c" stroke-width="0.9" stroke-linejoin="round"/><polygon points="1402.75,850.2 1396.45,839 1409.05,839" fill="#37ad6b" stroke="#28a55c" stroke-width="0.9" stroke-linejoin="round"/>
<path d="M828.1 814.65V838.61M824.1 814.65H832.1M824.1 838.61H832.1M848.99 731.64V766.58M844.99 731.64H852.99M844.99 766.58H852.99M869.89 788.87V837.11M865.89 788.87H873.89M865.89 837.11H873.89M890.79 819.65V843.6M886.79 819.65H894.79M886.79 843.6H894.79M922.13 840.11V862.73M918.13 840.11H926.13M918.13 862.73H926.13M963.93 813.99V874.21M959.93 813.99H967.93M959.93 874.21H967.93M1037.06 827.3V853.25M1033.06 827.3H1041.06M1033.06 853.25H1041.06M1110.2 838.11V851.42M1106.2 838.11H1114.2M1106.2 851.42H1114.2M1214.68 844.93V854.91M1210.68 844.93H1218.68M1210.68 854.91H1218.68M1402.75 841.94V851.92M1398.75 841.94H1406.75M1398.75 851.92H1406.75" fill="none" stroke="#454545" stroke-width="2.85" stroke-linecap="round"/>
<path d="M828.1 794.36V826.63M824.1 794.36H832.1M824.1 826.63H832.1M848.99 714.34V740.96M844.99 714.34H852.99M844.99 740.96H852.99M869.89 781.72V824.64M865.89 781.72H873.89M865.89 824.64H873.89M890.79 788.54V835.12M886.79 788.54H894.79M886.79 835.12H894.79M922.13 815.49V837.45M918.13 815.49H926.13M918.13 837.45H926.13M963.93 818.48V846.43M959.93 818.48H967.93M959.93 846.43H967.93M1037.06 816.82V836.78M1033.06 816.82H1041.06M1033.06 836.78H1041.06M1110.2 828.3V844.93M1106.2 828.3H1114.2M1106.2 844.93H1114.2M1214.68 839.78V849.76M1210.68 839.78H1218.68M1210.68 849.76H1218.68M1402.75 838.11V851.42M1398.75 838.11H1406.75M1398.75 851.42H1406.75" fill="none" stroke="#ee3034" stroke-width="2.85" stroke-linecap="round"/>
<path d="M828.1 790.7V842.27M824.1 790.7H832.1M824.1 842.27H832.1M848.99 692.38V741.62M844.99 692.38H852.99M844.99 741.62H852.99M869.89 771.23V832.46M865.89 771.23H873.89M865.89 832.46H873.89M890.79 815.49V835.45M886.79 815.49H894.79M886.79 835.45H894.79M922.13 790.2V845.43M918.13 790.2H926.13M918.13 845.43H926.13M963.93 793.36V829.63M959.93 793.36H967.93M959.93 829.63H967.93M1037.06 818.48V835.12M1033.06 818.48H1041.06M1033.06 835.12H1041.06M1110.2 829.13V842.44M1106.2 829.13H1114.2M1106.2 842.44H1114.2M1214.68 837.45V847.43M1210.68 837.45H1218.68M1210.68 847.43H1218.68M1402.75 834.45V847.76M1398.75 834.45H1406.75M1398.75 847.76H1406.75" fill="none" stroke="#0d60d9" stroke-width="2.85" stroke-linecap="round"/>
<path d="M828.1 787.7V828.63M824.1 787.7H832.1M824.1 828.63H832.1M848.99 687.39V754.6M844.99 687.39H852.99M844.99 754.6H852.99M869.89 748.28V831.46M865.89 748.28H873.89M865.89 831.46H873.89M890.79 799.85V834.78M886.79 799.85H894.79M886.79 834.78H894.79M922.13 816.82V838.44M918.13 816.82H926.13M918.13 838.44H926.13M963.93 810.33V825.97M959.93 810.33H967.93M959.93 825.97H967.93M1037.06 809.5V831.79M1033.06 809.5H1041.06M1033.06 831.79H1041.06M1110.2 829.13V842.44M1106.2 829.13H1114.2M1106.2 842.44H1114.2M1214.68 831.79V851.75M1210.68 831.79H1218.68M1210.68 851.75H1218.68M1402.75 835.95V849.26M1398.75 835.95H1406.75M1398.75 849.26H1406.75" fill="none" stroke="#28a55c" stroke-width="2.85" stroke-linecap="round"/></g>
<rect x="817.95" y="537" width="595.25" height="415.9" fill="none" stroke="#000" stroke-width="3.0"/>
<path d="M828.1 952.9v8.2M848.99 952.9v8.2M869.89 952.9v8.2M890.79 952.9v8.2M922.13 952.9v8.2M963.93 952.9v8.2M1037.06 952.9v8.2M1110.2 952.9v8.2M1214.68 952.9v8.2M1402.75 952.9v8.2M838.55 952.9v4.6M859.44 952.9v4.6M880.34 952.9v4.6M906.46 952.9v4.6M943.03 952.9v4.6M1000.49 952.9v4.6M1073.63 952.9v4.6M1162.44 952.9v4.6M1308.72 952.9v4.6M817.65 952.9h-8.2M817.65 911.31h-4.6M817.65 869.72h-8.2M817.65 828.13h-4.6M817.65 786.54h-8.2M817.65 744.95h-4.6M817.65 703.36h-8.2M817.65 661.77h-4.6M817.65 620.18h-8.2M817.65 578.59h-4.6M817.65 537h-8.2" fill="none" stroke="#000" stroke-width="3.0"/>
<g><text transform="translate(828.3 991.3) scale(1 1.1)" text-anchor="middle">1</text><text transform="translate(849.19 991.3) scale(1 1.1)" text-anchor="middle">3</text><text transform="translate(870.09 991.3) scale(1 1.1)" text-anchor="middle">5</text><text transform="translate(890.99 991.3) scale(1 1.1)" text-anchor="middle">7</text><text transform="translate(922.33 991.3) scale(1 1.1)" text-anchor="middle">10</text><text transform="translate(964.13 991.3) scale(1 1.1)" text-anchor="middle">14</text><text transform="translate(1037.26 991.3) scale(1 1.1)" text-anchor="middle">21</text><text transform="translate(1110.4 991.3) scale(1 1.1)" text-anchor="middle">28</text><text transform="translate(1214.88 991.3) scale(1 1.1)" text-anchor="middle">38</text><text transform="translate(1402.95 991.3) scale(1 1.1)" text-anchor="middle">56</text><text transform="translate(803.45 964) scale(1 1.1)" text-anchor="end">0</text><text transform="translate(803.45 880.82) scale(1 1.1)" text-anchor="end">50</text><text transform="translate(803.45 797.64) scale(1 1.1)" text-anchor="end">100</text><text transform="translate(803.45 714.46) scale(1 1.1)" text-anchor="end">150</text><text transform="translate(803.45 631.28) scale(1 1.1)" text-anchor="end">200</text><text transform="translate(803.45 548.1) scale(1 1.1)" text-anchor="end">250</text><text transform="translate(1160.1 582.3) scale(1 1.03)" font-size="30" xml:space="preserve" style="white-space:pre">Winter   <tspan dx="0.7">10-20 cm</tspan></text></g>
<text transform="translate(407 1038.7) scale(1 1.03)" text-anchor="middle">Incubation time (d)</text>
<text transform="translate(1111.2 1038.7) scale(1 1.03)" text-anchor="middle">Incubation time (d)</text>
<text id="ylab" font-size="30" transform="translate(26.8 891.5) rotate(-90)" xml:space="preserve" style="white-space:pre">Sediment organic carbon mineralization rates    (μg g<tspan dy="-12.4" font-size="22.5">-1</tspan><tspan dy="12.4"> d</tspan><tspan dy="-12.4" font-size="22.5">-1</tspan><tspan dy="12.4">)</tspan></text>
<path d="M794.3 10.9H822.4M836.2 10.9H863.9" stroke="#454545" stroke-width="2.85" stroke-linecap="round" fill="none"/>
<rect x="824.3" y="5.9" width="10" height="10" fill="#505050" stroke="#454545" stroke-width="0.9"/>
<text transform="translate(871 20.8) scale(1 1.03)">CM</text>
<path d="M932 10.9H960M973.8 10.9H1001.8" stroke="#ee3034" stroke-width="2.85" stroke-linecap="round" fill="none"/>
<circle cx="966.9" cy="10.9" r="5.6" fill="#f04040" stroke="#ee3034" stroke-width="0.9"/>
<text transform="translate(1008.5 20.8) scale(1 1.03)">SA-6</text>
<path d="M1082.6 10.9H1110.6M1124.4 10.9H1152.5" stroke="#0d60d9" stroke-width="2.85" stroke-linecap="round" fill="none"/>
<polygon points="1117.5,3.3 1111.2,14.5 1123.8,14.5" fill="#1b6fde" stroke="#0d60d9" stroke-width="0.9" stroke-linejoin="round"/>
<text transform="translate(1159.8 20.8) scale(1 1.03)">SA-10</text>
<path d="M1248.9 10.9H1276.7M1290.5 10.9H1318.2" stroke="#28a55c" stroke-width="2.85" stroke-linecap="round" fill="none"/>
<polygon points="1283.6,18.5 1277.3,7.3 1289.9,7.3" fill="#37ad6b" stroke="#28a55c" stroke-width="0.9" stroke-linejoin="round"/>
<text transform="translate(1326 20.8) scale(1 1.03)">SA-14</text>
</svg>
</body></html>
